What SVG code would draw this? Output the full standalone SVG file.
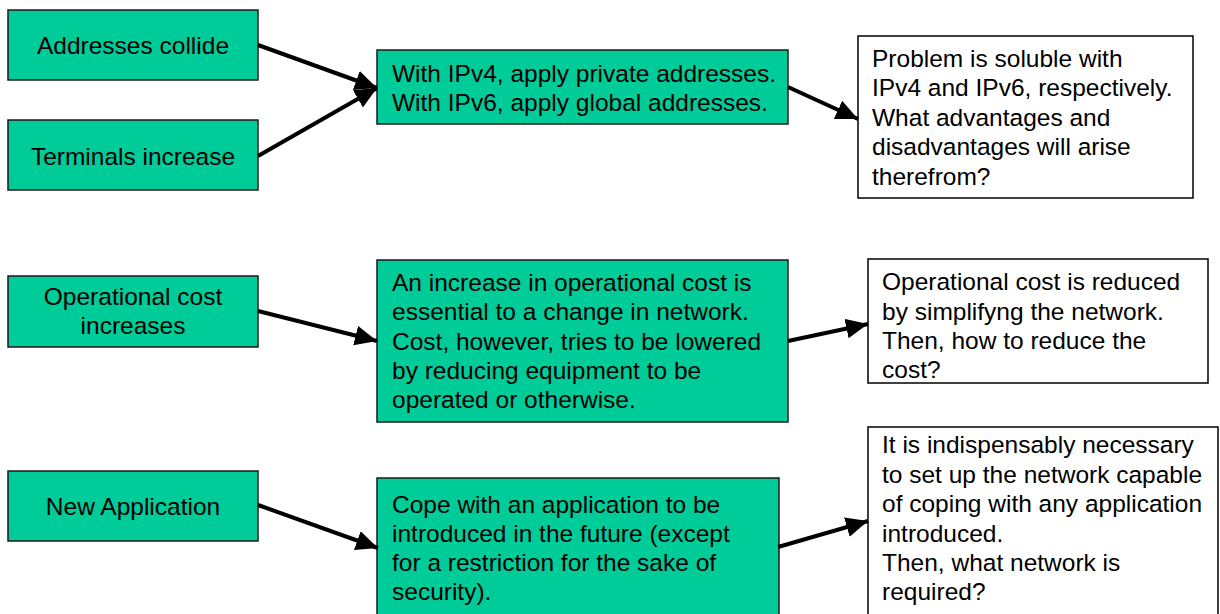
<svg xmlns="http://www.w3.org/2000/svg" width="1220" height="614" viewBox="0 0 1220 614">
  <defs>
    <style>
      .g { fill: #00cc99; stroke: #1a1a1a; stroke-width: 1.5; }
      .w { fill: #ffffff; stroke: #000000; stroke-width: 1.5; }
      text { font-family: "Liberation Sans", Arial, sans-serif; font-size: 24.5px; fill: #000000; }
      .c { text-anchor: middle; }
      .edge { stroke: #000000; stroke-width: 4; fill: none; marker-end: url(#head); }
    </style>
    <marker id="head" markerUnits="userSpaceOnUse" markerWidth="24" markerHeight="22" refX="22" refY="10" orient="auto">
      <path d="M0,0 L22,10 L0,20 z" fill="#000000"/>
    </marker>
  </defs>

  <rect width="1220" height="614" fill="#ffffff"/>

  <!-- row 1 -->
  <g id="addresses-collide">
    <rect class="g" x="8" y="10" width="250" height="70"/>
    <text class="c" x="133" y="54">Addresses collide</text>
  </g>
  <g id="terminals-increase">
    <rect class="g" x="8" y="120" width="250" height="70"/>
    <text class="c" x="133" y="165">Terminals increase</text>
  </g>
  <g id="apply-addresses">
    <rect class="g" x="377" y="50" width="411" height="74"/>
    <text x="392" y="82">With IPv4, apply private addresses.</text>
    <text x="392" y="111">With IPv6, apply global addresses.</text>
  </g>
  <g id="problem-soluble">
    <rect class="w" x="858" y="36" width="335" height="162"/>
    <text x="872" y="66.5">Problem is soluble with</text>
    <text x="872" y="96">IPv4 and IPv6, respectively.</text>
    <text x="872" y="125.5">What advantages and</text>
    <text x="872" y="155">disadvantages will arise</text>
    <text x="872" y="184.5">therefrom?</text>
  </g>

  <!-- row 2 -->
  <g id="cost-increases">
    <rect class="g" x="8" y="276" width="250" height="71"/>
    <text class="c" x="133" y="305">Operational cost</text>
    <text class="c" x="133" y="334">increases</text>
  </g>
  <g id="cost-essential">
    <rect class="g" x="377" y="260" width="411" height="162"/>
    <text x="392" y="291">An increase in operational cost is</text>
    <text x="392" y="320">essential to a change in network.</text>
    <text x="392" y="349.5">Cost, however, tries to be lowered</text>
    <text x="392" y="379">by reducing equipment to be</text>
    <text x="392" y="408">operated or otherwise.</text>
  </g>
  <g id="cost-reduced">
    <rect class="w" x="868" y="259" width="340" height="124"/>
    <text x="882" y="290">Operational cost is reduced</text>
    <text x="882" y="319.5">by simplifyng the network.</text>
    <text x="882" y="349">Then, how to reduce the</text>
    <text x="882" y="378">cost?</text>
  </g>

  <!-- row 3 -->
  <g id="new-application">
    <rect class="g" x="8" y="471" width="250" height="70"/>
    <text class="c" x="133" y="515">New Application</text>
  </g>
  <g id="cope-application">
    <rect class="g" x="377" y="478" width="402" height="140"/>
    <text x="392" y="513">Cope with an application to be</text>
    <text x="392" y="542">introduced in the future (except</text>
    <text x="392" y="571">for a restriction for the sake of</text>
    <text x="392" y="600">security).</text>
  </g>
  <g id="network-required">
    <rect class="w" x="868" y="427" width="350" height="192"/>
    <text x="882" y="453">It is indispensably necessary</text>
    <text x="882" y="482.5">to set up the network capable</text>
    <text x="882" y="512">of coping with any application</text>
    <text x="882" y="541.5">introduced.</text>
    <text x="882" y="571">Then, what network is</text>
    <text x="882" y="600">required?</text>
  </g>

  <!-- connectors -->
  <g id="connectors">
    <line class="edge" x1="258" y1="45" x2="377" y2="88"/>
    <line class="edge" x1="258" y1="156" x2="377" y2="88"/>
    <line class="edge" x1="788" y1="87" x2="858" y2="119"/>
    <line class="edge" x1="258" y1="311" x2="377" y2="341"/>
    <line class="edge" x1="788" y1="341" x2="868" y2="324"/>
    <line class="edge" x1="258" y1="505" x2="378" y2="548"/>
    <line class="edge" x1="778" y1="547" x2="868" y2="521"/>
  </g>
</svg>
